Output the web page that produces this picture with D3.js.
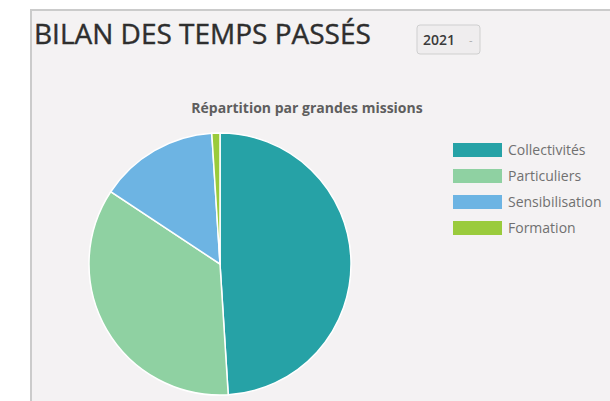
<!DOCTYPE html>
<html>
<head>
<meta charset="utf-8">
<script src="https://cdn.jsdelivr.net/npm/d3@7/dist/d3.min.js"></script>
<style>
  html, body { margin: 0; padding: 0; background: #ffffff; }
  svg { display: block; font-family: "Open Sans", sans-serif; }
</style>
</head>
<body>
<svg id="chart" width="610" height="401"></svg>
<script>
// Time spent per mission (percent of total), 2021
const missions = ["Collectivités", "Particuliers", "Sensibilisation", "Formation"];
const shares = [49.0, 35.3, 14.7, 1.0];
const colors = ["#26a2a6", "#8fd1a2", "#6db4e3", "#9acb3c"];
const years = ["2021"];

const svg = d3.select("#chart");

// Panel
svg.append("rect")
  .attr("x", 31).attr("y", 10)
  .attr("width", 600).attr("height", 420)
  .attr("fill", "#f4f2f3")
  .attr("stroke", "#cbcbcb")
  .attr("stroke-width", 2);

// Heading
svg.append("text")
  .attr("x", 34).attr("y", 44)
  .attr("font-size", 28)
  .attr("fill", "#2e2e2e")
  .attr("stroke", "#2e2e2e")
  .attr("stroke-width", 0.4)
  .text("BILAN DES TEMPS PASSÉS");

// Year selector
const sel = svg.append("g").attr("transform", "translate(417,25)");
sel.append("rect")
  .attr("width", 63).attr("height", 29).attr("rx", 3)
  .attr("fill", "#efedee")
  .attr("stroke", "#cfcfcf");
sel.append("text")
  .attr("x", 6).attr("y", 20)
  .attr("font-size", 14)
  .attr("font-weight", 600)
  .attr("fill", "#3a3a3a")
  .text(years[0]);
sel.append("text")
  .attr("x", 52).attr("y", 19)
  .attr("font-size", 11)
  .attr("fill", "#aaa")
  .text("-");

// Chart title
svg.append("text")
  .attr("x", 307).attr("y", 113)
  .attr("text-anchor", "middle")
  .attr("font-size", 14)
  .attr("font-weight", "bold")
  .attr("fill", "#5e5e5e")
  .text("Répartition par grandes missions");

// Pie
const color = d3.scaleOrdinal().domain(missions).range(colors);
const data = missions.map((m, i) => ({ name: m, value: shares[i] }));
const pie = d3.pie().sort(null).value(d => d.value);
const arc = d3.arc().innerRadius(0).outerRadius(131);

svg.append("g")
  .attr("transform", "translate(220,264)")
  .selectAll("path")
  .data(pie(data))
  .join("path")
  .attr("d", arc)
  .attr("fill", d => color(d.data.name))
  .attr("stroke", "#ffffff")
  .attr("stroke-width", 1.5);

// Legend
const legend = svg.append("g").attr("transform", "translate(453,143)");
const row = d3.scaleBand().domain(missions).range([0, 104]);
const item = legend.selectAll("g")
  .data(missions)
  .join("g")
  .attr("transform", d => `translate(0,${row(d)})`);
item.append("rect")
  .attr("width", 49).attr("height", 14)
  .attr("fill", d => color(d));
item.append("text")
  .attr("x", 55).attr("y", 12)
  .attr("font-size", 14)
  .attr("fill", "#707070")
  .text(d => d);
</script>
</body>
</html>
